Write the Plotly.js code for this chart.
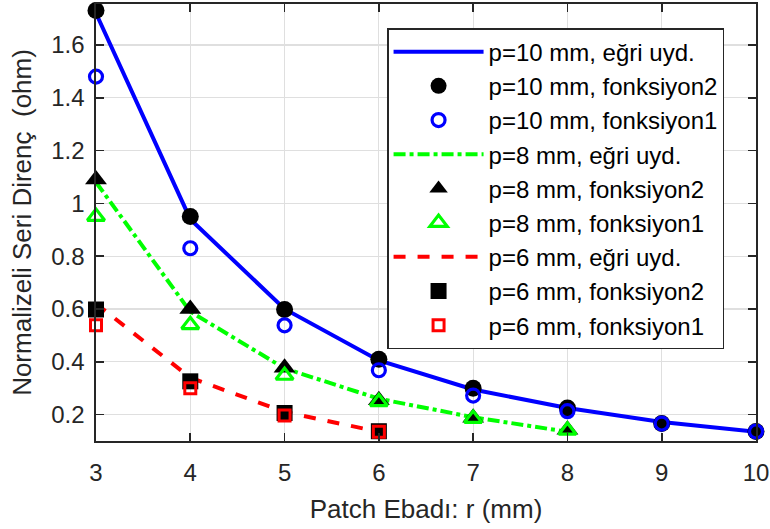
<!DOCTYPE html>
<html><head><meta charset="utf-8">
<script src="https://cdn.plot.ly/plotly-3.0.1.min.js"></script>
<style>body{margin:0;background:#fff}#c{width:770px;height:529px}</style>
</head><body><div id="c"></div>
<script>
const r10 = [3,4,5,6,7,8,9,10];
const fit10 = [1.72,0.94,0.60,0.405,0.295,0.225,0.172,0.135];
const f2_10 = [1.73,0.95,0.598,0.41,0.30,0.225,0.166,0.136];
const f1_10 = [1.48,0.83,0.538,0.368,0.272,0.213,0.166,0.136];
const r8 = [3,4,5,6,7,8];
const fit8 = [1.08,0.59,0.375,0.26,0.19,0.135];
const f2_8 = [1.09,0.60,0.377,0.254,0.188,0.143];
const f1_8 = [0.95,0.54,0.348,0.248,0.185,0.14];
const r6 = [3,4,5,6];
const fit6 = [0.62,0.34,0.21,0.135];
const f2_6 = [0.598,0.326,0.206,0.137];
const f1_6 = [0.538,0.30,0.197,0.135];
const names = ['p=10 mm, eğri uyd.','p=10 mm, fonksiyon2','p=10 mm, fonksiyon1',
 'p=8 mm, eğri uyd.','p=8 mm, fonksiyon2','p=8 mm, fonksiyon1',
 'p=6 mm, eğri uyd.','p=6 mm, fonksiyon2','p=6 mm, fonksiyon1'];
const xTicks = [3,4,5,6,7,8,9,10];
const yTicks = [0.2,0.4,0.6,0.8,1,1.2,1.4,1.6];
const yTickText = ['0.2','0.4','0.6','0.8','1','1.2','1.4','1.6'];

const traces = [
 {x:r10,y:fit10,mode:'lines',line:{color:'#0000ff',width:4},name:names[0]},
 {x:r10,y:f2_10,mode:'markers',marker:{symbol:'circle',size:17,color:'#000'},name:names[1]},
 {x:r10,y:f1_10,mode:'markers',marker:{symbol:'circle-open',size:13,color:'#0000ff',line:{width:3.2}},name:names[2]},
 {x:r8,y:fit8,mode:'lines',line:{color:'#00ff00',width:4,dash:'dashdot'},name:names[3]},
 {x:r8,y:f2_8,mode:'markers',marker:{symbol:'triangle-up',size:19,color:'#000'},name:names[4]},
 {x:r8,y:f1_8,mode:'markers',marker:{symbol:'triangle-up-open',size:15,color:'#00ff00',line:{width:3.2}},name:names[5]},
 {x:r6,y:fit6,mode:'lines',line:{color:'#ff0000',width:4,dash:'dash'},name:names[6]},
 {x:r6,y:f2_6,mode:'markers',marker:{symbol:'square',size:16,color:'#000'},name:names[7]},
 {x:r6,y:f1_6,mode:'markers',marker:{symbol:'square-open',size:11,color:'#ff0000',line:{width:3}},name:names[8]}
];
traces.forEach((t,i)=>{t.legendgroup='g'+i;t.type='scatter';t.cliponaxis=false;});

const FONT = 'Liberation Sans, Arial, Helvetica, sans-serif';
const axBase = {showline:true,linecolor:'#262626',linewidth:1.6,mirror:'ticks',ticks:'inside',ticklen:8,
 tickcolor:'#262626',tickwidth:1.6,showgrid:true,gridcolor:'#dfdfdf',gridwidth:1.2,zeroline:false,
 tickfont:{family:FONT,size:24,color:'#262626'}};
const layout = {
 width:770,height:529,margin:{l:96,r:14,t:4,b:88},
 paper_bgcolor:'#fff',plot_bgcolor:'#fff',
 font:{family:FONT,color:'#262626'},
 xaxis:Object.assign({},axBase,{range:[3,10],tickvals:xTicks,ticktext:xTicks.map(String),ticklabelstandoff:10,
   title:{text:'Patch Ebadı: r (mm)',font:{size:26,color:'#262626'},standoff:14}}),
 yaxis:Object.assign({},axBase,{range:[0.1,1.755],tickvals:yTicks,ticktext:yTickText,ticklabelstandoff:5,
   title:{text:'Normalizeli Seri Direnç&nbsp; (ohm)',font:{size:26,color:'#262626'},standoff:12}}),
 showlegend:true,
 legend:{x:0.441,y:0.945,xanchor:'left',yanchor:'top',bgcolor:'#fff',bordercolor:'#262626',borderwidth:1.5,
   font:{size:24,color:'#000',family:FONT},traceorder:'grouped',tracegroupgap:0,itemwidth:90}
};
Plotly.newPlot('c',traces,layout,{displayModeBar:false,staticPlot:true});
</script></body></html>
